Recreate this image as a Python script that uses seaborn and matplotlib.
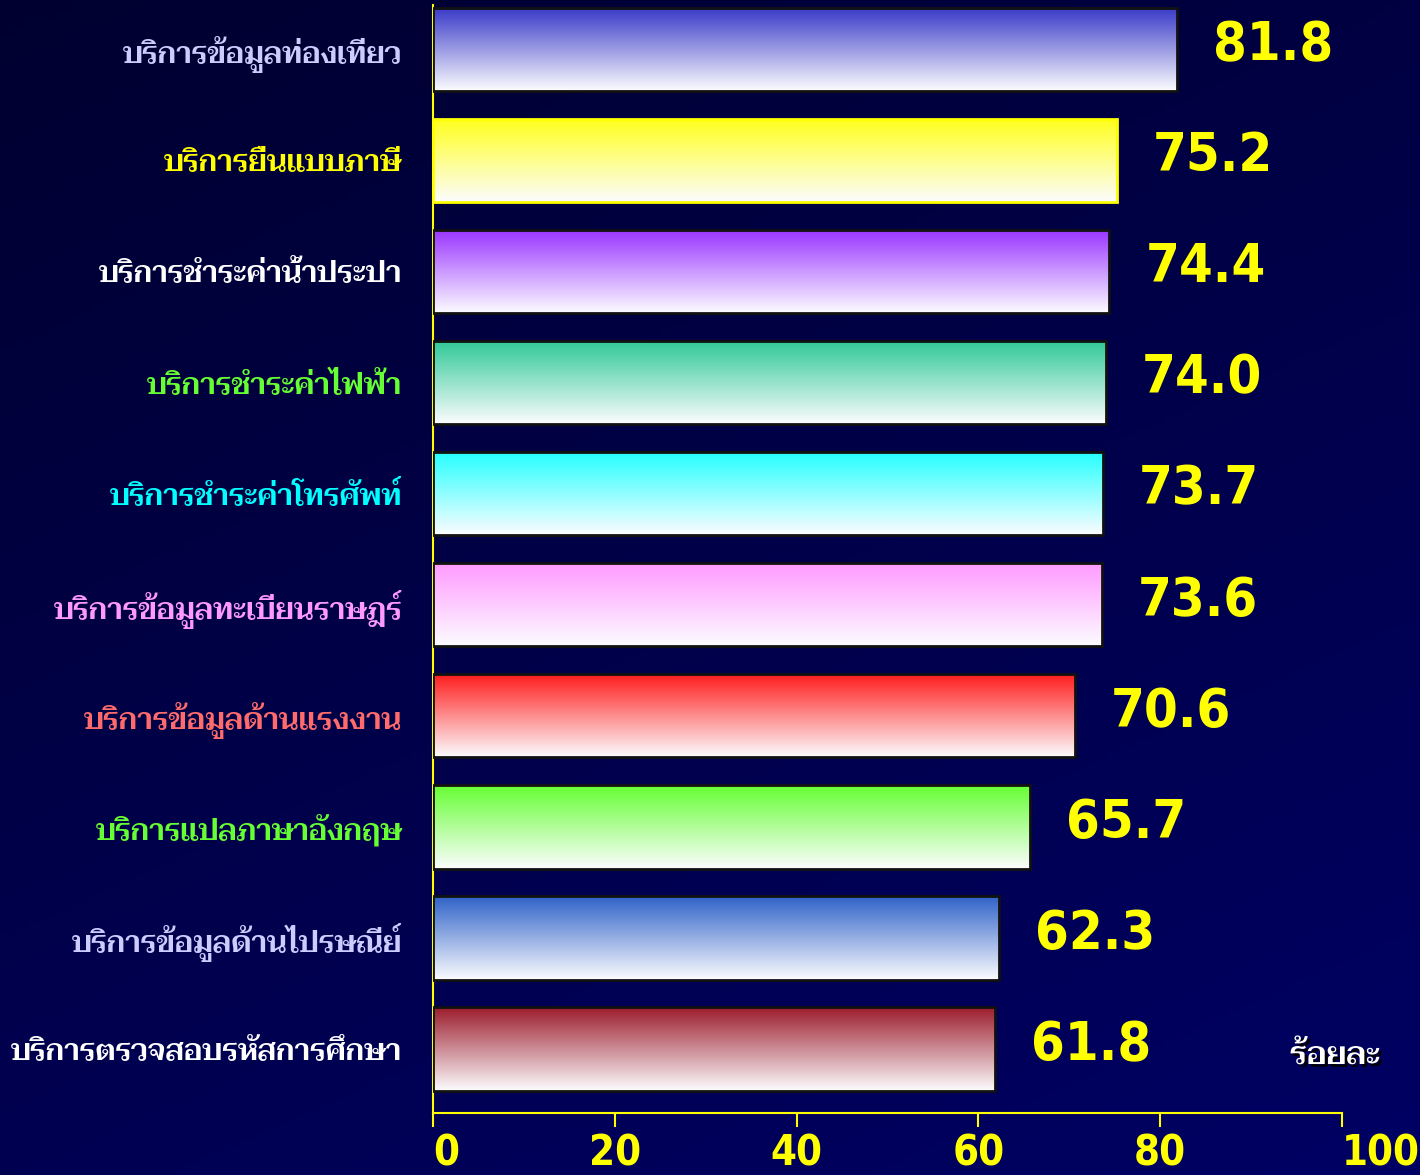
import numpy as np
import pandas as pd
import matplotlib
matplotlib.use("Agg")
import matplotlib.pyplot as plt
import matplotlib.colors as mcolors
from matplotlib import font_manager as fm, ft2font
import matplotlib.patheffects as pe
import seaborn as sns

services = [
    "บริการข้อมูลท่องเที่ยว",
    "บริการยื่นแบบภาษี",
    "บริการชำระค่าน้ำประปา",
    "บริการชำระค่าไฟฟ้า",
    "บริการชำระค่าโทรศัพท์",
    "บริการข้อมูลทะเบียนราษฎร์",
    "บริการข้อมูลด้านแรงงาน",
    "บริการแปลภาษาอังกฤษ",
    "บริการข้อมูลด้านไปรษณีย์",
    "บริการตรวจสอบรหัสการศึกษา",
]
percent = [81.8, 75.2, 74.4, 74.0, 73.7, 73.6, 70.6, 65.7, 62.3, 61.8]
bar_top_colors = ["#3838c8", "#ffff1a", "#9933ff", "#2ec896", "#22ffff",
                  "#ff99ff", "#ff1a1a", "#66ff33", "#2f62c8", "#9c1c2c"]
label_colors = ["#ccccff", "#ffff00", "#ffffff", "#66ff33", "#00ffff",
                "#ff99ff", "#ff6b6b", "#66ff33", "#ccccff", "#ffffff"]
x_ticks = [0, 20, 40, 60, 80, 100]
unit_label = "ร้อยละ"


def thai_families():
    fams = []
    seen = set()
    for f in fm.fontManager.ttflist:
        if f.fname in seen:
            continue
        seen.add(f.fname)
        try:
            cmap = ft2font.FT2Font(f.fname).get_charmap()
        except Exception:
            continue
        if 0x0E1A in cmap and 0x0E34 in cmap and f.name not in fams:
            fams.append(f.name)
    return fams


available = thai_families()
thai_family = "DejaVu Sans"
for cand in ["Taviraj", "Trirong", "Noto Serif Thai", "FreeSerif", "Loma"]:
    if cand in available:
        thai_family = cand
        break

sns.set_theme(style="white")
plt.rcParams["font.family"] = ["DejaVu Sans"]

thai_label_font = fm.FontProperties(family=[thai_family, "DejaVu Sans"], weight="semibold", size=21.3)
number_font = dict(family="DejaVu Sans", weight="bold", stretch="condensed")

fig = plt.figure(figsize=(14.2, 11.75), dpi=100)

# navy background, darker at the top-left corner
bg = fig.add_axes([0, 0, 1, 1], zorder=-10)
gy, gx = np.mgrid[0:1:200j, 0:1:200j]
t = np.clip(0.65 * gy + 0.35 * gx, 0, 1)
img = np.zeros((200, 200, 3))
img[..., 2] = (48 + 52 * t) / 255
bg.imshow(img, extent=[0, 1, 0, 1], origin="upper", aspect="auto")
bg.set_axis_off()

ax = fig.add_axes([433 / 1420, 62 / 1175, 909 / 1420, 1108 / 1175])
ax.patch.set_alpha(0)

df = pd.DataFrame({"service": services, "percent": percent})
sns.barplot(data=df, x="percent", y="service", hue="service",
            palette=bar_top_colors, saturation=1, legend=False,
            orient="h", width=0.75, ax=ax)

# vertical colour-to-white fill inside each bar
steps = np.linspace(0, 1, 256)[:, None]
for patch, top in zip(ax.patches, bar_top_colors):
    x0, y0 = patch.get_x(), patch.get_y()
    w, h = patch.get_width(), patch.get_height()
    rgb = np.array(mcolors.to_rgb(top))
    ramp = rgb[None, :] * (1 - steps) + np.array([0.99, 0.99, 1.0])[None, :] * steps
    im = ax.imshow(ramp[:, None, :], extent=[x0, x0 + w, y0 + h, y0],
                   origin="upper", aspect="auto", interpolation="bilinear", zorder=3)
    im.set_clip_path(patch)
    patch.set_facecolor("none")
    patch.set_edgecolor("#ffff00" if top == "#ffff1a" else "#111111")
    patch.set_linewidth(2)
    patch.set_zorder(4)

ax.set_xlim(0, 100)
ax.set_ylim(9.576, -0.4)
ax.set_xlabel("")
ax.set_ylabel("")

for side in ["top", "right"]:
    ax.spines[side].set_visible(False)
for side in ["left", "bottom"]:
    ax.spines[side].set_color("#ffff00")
    ax.spines[side].set_linewidth(1.5)
    ax.spines[side].set_zorder(2)

ax.set_xticks(x_ticks)
ax.set_xticklabels([str(v) for v in x_ticks], color="#ffff00", fontsize=30, **number_font)
ax.tick_params(axis="x", direction="out", length=10, width=1.5, color="#ffff00", pad=4,
               bottom=True)
xt = ax.get_xticklabels()
xt[0].set_horizontalalignment("left")
xt[-1].set_horizontalalignment("left")

ax.set_yticks(range(len(services)))
ax.set_yticklabels(services, fontproperties=thai_label_font)
for lab, col in zip(ax.get_yticklabels(), label_colors):
    lab.set_color(col)
ax.tick_params(axis="y", length=0, pad=22, left=False)

for i, v in enumerate(percent):
    ax.annotate(f"{v:.1f}", xy=(v, i), xytext=(26, 3), textcoords="offset points",
                ha="left", va="center", color="#ffff00", fontsize=39, **number_font)

fig.text(1335 / 1420, 1 - 1056 / 1175, unit_label, ha="center", va="center",
         color="white", fontproperties=fm.FontProperties(family=[thai_family, "DejaVu Sans"],
                                                         weight="semibold", size=23),
         path_effects=[pe.withSimplePatchShadow(offset=(2, -2), shadow_rgbFace="black", alpha=1)])

plt.savefig("out.png", dpi=100)
